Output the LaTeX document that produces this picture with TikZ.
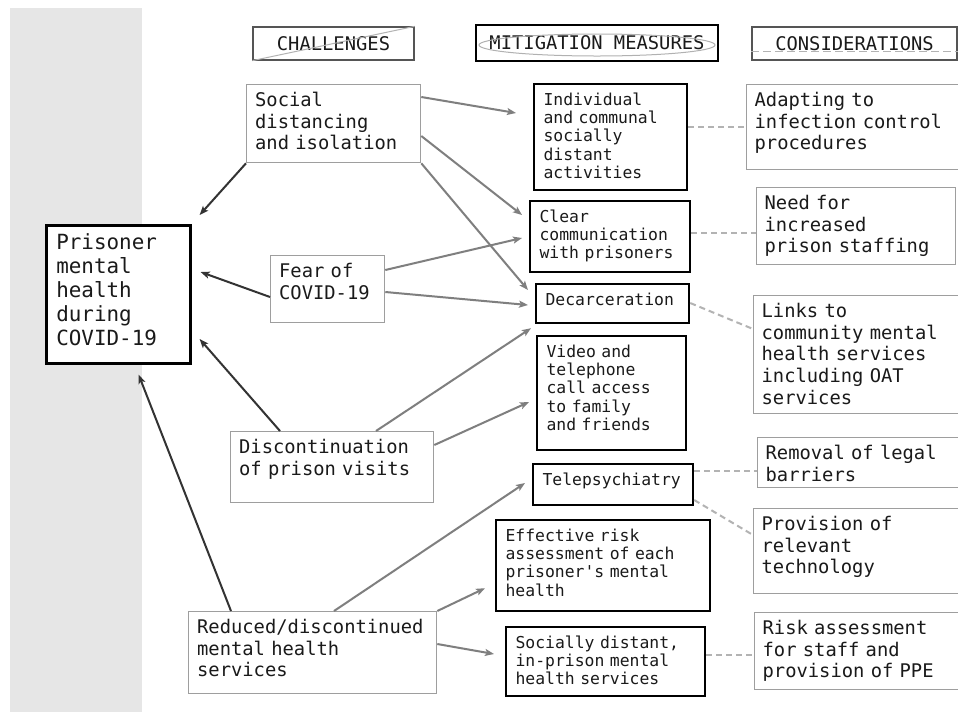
\documentclass[tikz,border=0pt]{standalone}
\usepackage{fontspec}
\setmainfont{DejaVu Sans Mono}
\usetikzlibrary{arrows.meta}
\definecolor{cBand}{HTML}{E6E6E6}
\definecolor{cFrame}{HTML}{9E9E9E}
\definecolor{cHead}{HTML}{555555}
\definecolor{cLink}{HTML}{7F7F7F}
\definecolor{cDark}{HTML}{333333}
\definecolor{cDash}{HTML}{B3B3B3}
\definecolor{ink}{HTML}{1A1A1A}

\begin{document}
\begin{tikzpicture}[
  % one unit = one pixel of the 958x713 layout, y running down
  x=1pt, y=-1pt,
  >={Stealth[length=9pt, width=7pt, inset=2pt]},
  chal/.style={
    draw=cFrame, line width=1.3pt, anchor=north west, align=left,
    inner xsep=8.5pt, inner ysep=7pt, text height=15pt, text=ink,
    font=\fontsize{18.8}{21.6}\selectfont,
  },
  cons/.style={chal, inner xsep=8pt},
  meas/.style={
    draw=black, line width=2.2pt, anchor=north west, align=left,
    inner xsep=9.5pt, inner ysep=8pt, text height=13pt, text=ink,
    font=\fontsize{16.4}{18.4}\selectfont,
  },
  hdr/.style={minimum height=33pt, inner sep=0pt, text=ink,
    font=\fontsize{18.8}{21.6}\selectfont},
  feedarr/.style={->, draw=cLink, line width=2pt},
  hitarr/.style={->, draw=cDark, line width=2pt},
  dashlink/.style={draw=cDash, line width=2pt, dash pattern=on 6pt off 4pt},
]
  \path[use as bounding box, fill=white] (0,0) rectangle (958,713);

  % --- grey band behind the outcome ---
  \fill[cBand] (10,8) rectangle (142,712);

  % --- column headers ---
  \node[hdr, draw=cHead, line width=1.3pt, minimum width=161pt] (hChal) at (333.5,43.5) {CHALLENGES};
  \draw[cDash, line width=1pt] (hChal.south west) -- (hChal.north east);
  \node[hdr, draw=black, line width=2.8pt, minimum width=242pt, minimum height=36pt] (hMit) at (597,43) {MITIGATION MEASURES};
  \draw[cFrame!80, line width=1pt] ([yshift=-2pt]hMit.center) ellipse [x radius=118pt, y radius=11pt];
  \node[hdr, draw=cHead, line width=1.3pt, minimum width=205pt] (hCons) at (854.5,43.5) {CONSIDERATIONS};
  \draw[cDash, line width=1.4pt, dash pattern=on 8pt off 4pt]
    ([yshift=9pt]hCons.south west) -- ([yshift=9pt]hCons.south east);

  % --- outcome ---
  \node[draw=black, line width=2.6pt, fill=white, anchor=north west, align=left,
        inner xsep=10pt, inner ysep=8pt, text width=124pt, text height=16pt, text depth=106pt,
        text=ink, font=\fontsize{20.9}{24}\selectfont] (prisoner) at (45,224)
    {Prisoner\\mental\\health\\during\\COVID-19};

  % --- challenges ---
  \node[chal, text width=157pt, text depth=49pt] (social) at (246,84) {Social\\distancing\\and isolation};
  \node[chal, text width=97pt, text depth=38pt] (fear) at (270,255) {Fear of\\COVID-19};
  \node[chal, text width=186pt, text depth=42pt] (discont) at (230,431) {Discontinuation\\of prison visits};
  \node[chal, text width=231pt, text depth=53pt] (reduced) at (188,611) {Reduced/discontinued\\mental health\\services};

  % --- mitigation measures ---
  \node[meas, text width=134pt, text depth=77pt] (indiv) at (533,83) {Individual\\and communal\\socially\\distant\\activities};
  \node[meas, text width=141pt, text depth=42pt] (clear) at (529,200) {Clear\\communication\\with prisoners};
  \node[meas, text width=134pt, text depth=10pt] (decarc) at (535,283) {Decarceration};
  \node[meas, text width=130pt, text depth=85pt] (video) at (536,335) {Video and\\telephone\\call access\\to family\\and friends};
  \node[meas, text width=141pt, text depth=12pt] (tele) at (532,463) {Telepsychiatry};
  \node[meas, text width=195pt, text depth=62pt] (effect) at (495,519) {Effective risk\\assessment of each\\prisoner\textquotesingle s mental\\health};
  \node[meas, text width=180pt, text depth=40pt] (socdist) at (505,626) {Socially distant,\\in-prison mental\\health services};

  % --- considerations ---
  \node[cons, text width=197pt, text depth=56pt] (adapt) at (746,84) {Adapting to\\infection control\\procedures};
  \node[cons, text width=183pt, text depth=48pt] (need) at (756,187) {Need for\\increased\\prison staffing};
  \node[cons, text width=190pt, text depth=89pt] (links) at (753,295) {Links to\\community mental\\health services\\including OAT\\services};
  \node[cons, text width=186pt, text depth=21pt] (removal) at (757,437) {Removal of legal\\barriers};
  \node[cons, text width=190pt, text depth=56pt] (provision) at (753,508) {Provision of\\relevant\\technology};
  \node[cons, text width=189pt, text depth=48pt] (riskass) at (754,612) {Risk assessment\\for staff and\\provision of PPE};

  % --- challenges feeding the outcome ---
  \draw[hitarr] (social.south west) -- ([xshift=8pt,yshift=9pt]prisoner.north east);
  \draw[hitarr] ([yshift=-42pt]fear.north west) -- ([xshift=9pt,yshift=-48pt]prisoner.north east);
  \draw[hitarr] ([xshift=50pt]discont.north west) -- ([xshift=8pt,yshift=-115pt]prisoner.north east);
  \draw[hitarr] ([xshift=43pt]reduced.north west) -- ([xshift=-53pt,yshift=-10pt]prisoner.south east);

  % --- challenges to measures ---
  \draw[feedarr] ([yshift=-13pt]social.north east) -- ([xshift=-17pt,yshift=-30pt]indiv.north west);
  \draw[feedarr] ([yshift=-52pt]social.north east) -- ([xshift=-7pt,yshift=-15pt]clear.north west);
  \draw[feedarr] (social.south east) -- ([xshift=-7pt,yshift=-7pt]decarc.north west);
  \draw[feedarr] ([yshift=-15pt]fear.north east) -- ([xshift=-7pt,yshift=-38pt]clear.north west);
  \draw[feedarr] ([yshift=-37pt]fear.north east) -- ([xshift=-7pt,yshift=-22pt]decarc.north west);
  \draw[feedarr] ([xshift=146pt]discont.north west) -- ([xshift=-4pt,yshift=-4pt]decarc.south west);
  \draw[feedarr] ([yshift=-14pt]discont.north east) -- ([xshift=-7pt,yshift=-67pt]video.north west);
  \draw[feedarr] ([xshift=146pt]reduced.north west) -- ([xshift=-7pt,yshift=-20pt]tele.north west);
  \draw[feedarr] (reduced.north east) -- ([xshift=-10pt,yshift=24pt]effect.south west);
  \draw[feedarr] ([yshift=-33pt]reduced.north east) -- ([xshift=-11pt,yshift=-28pt]socdist.north west);

  % --- measures to considerations ---
  \draw[dashlink] ([yshift=-44pt]indiv.north east) -- ([yshift=-43pt]adapt.north west);
  \draw[dashlink] ([yshift=-33pt]clear.north east) -- ([yshift=-46pt]need.north west);
  \draw[dashlink] ([yshift=-20pt]decarc.north east) -- ([yshift=-34pt]links.north west);
  \draw[dashlink] ([yshift=-8pt]tele.north east) -- ([yshift=-34pt]removal.north west);
  \draw[dashlink] ([yshift=-37pt]tele.north east) -- ([yshift=-27pt]provision.north west);
  \draw[dashlink] ([yshift=-29pt]socdist.north east) -- ([yshift=-43pt]riskass.north west);
\end{tikzpicture}
\end{document}
